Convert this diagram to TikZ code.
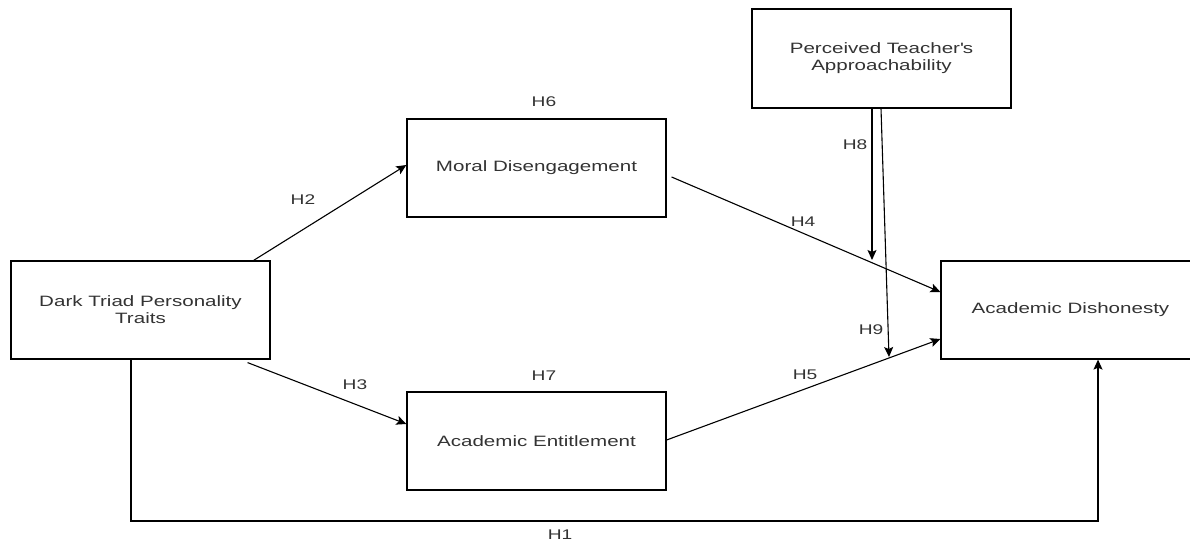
\documentclass[tikz,border=0pt]{standalone}
\usepackage{fontspec}
\setmainfont[FakeStretch=1.37]{Liberation Sans}
\usetikzlibrary{arrows.meta,calc}
\definecolor{txt}{HTML}{333333}
\tikzset{
  box/.style={draw=black, line width=1.2pt, minimum width=259pt, minimum height=98pt, inner sep=0pt,
              align=center, text=txt, font=\fontsize{15}{17}\selectfont},
  lbl/.style={text=txt, font=\fontsize{14}{16}\selectfont, inner sep=0pt},
  arr/.style={draw=black, line width=1.1pt, -{Stealth[length=10pt,width=9pt,inset=2pt]}}
}
\begin{document}
\begin{tikzpicture}[x=1pt,y=-1pt]
\useasboundingbox (0,0) rectangle (1190,546);
\clip (0,0) rectangle (1190,546);
\node[box] (dt) at (140.5,310) {Dark Triad Personality\\Traits};
\node[box] (md) at (536.5,168) {Moral Disengagement};
\node[box] (ae) at (536.5,441) {Academic Entitlement};
\node[box] (ad) at (1070.5,310) {Academic Dishonesty};
\node[box, minimum height=99pt] (pt) at (881.5,58.5) {Perceived Teacher\textquotesingle s\\Approachability};
\coordinate (h8end) at (872,260);
\coordinate (h9end) at (889,357);
\coordinate (h1b) at (131,521);
% connectors
\draw[arr] ([xshift=-17pt]dt.north east) -- ([yshift=3pt]md.west);
\draw[arr] ([xshift=-23pt,yshift=-3pt]dt.south east) -- ([yshift=17pt]ae.west);
\draw[arr] ([xshift=5pt,yshift=-9pt]md.east) -- ([yshift=18pt]ad.west);
\draw[arr] ([yshift=1pt]ae.east) -- ([yshift=-29pt]ad.west);
\draw[arr] ([xshift=-9.5pt]pt.south) -- (h8end);
\draw[arr] ([xshift=-0.5pt]pt.south) -- (h9end);
\draw[arr] ([xshift=-9.5pt]dt.south) -- (h1b) -| ([xshift=27.5pt]ad.south);
% labels
\node[lbl] (l1) at (560,535) {H1};
\node[lbl] (l2) at (303,200) {H2};
\node[lbl] (l3) at (355,385) {H3};
\node[lbl] (l4) at (803,222) {H4};
\node[lbl] (l5) at (805,375) {H5};
\node[lbl] (l6) at (544,102) {H6};
\node[lbl] (l7) at (544,376) {H7};
\node[lbl] (l8) at (855,145) {H8};
\node[lbl] (l9) at (871,330) {H9};
\end{tikzpicture}
\end{document}
